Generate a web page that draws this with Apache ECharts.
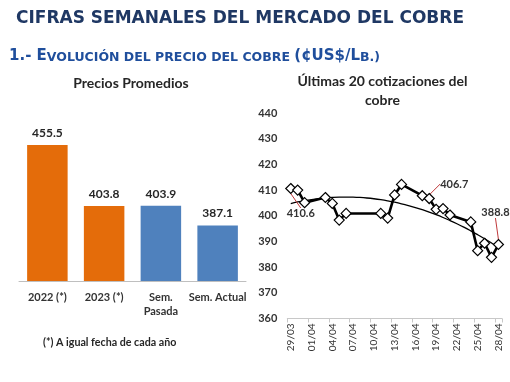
<!DOCTYPE html>
<html>
<head>
<meta charset="utf-8">
<script src="https://cdn.jsdelivr.net/npm/echarts@6/dist/echarts.min.js"></script>
<style>
html,body{margin:0;padding:0;background:#fff;}
#c{width:510px;height:382px;}
</style>
</head>
<body>
<div id="c"></div>
<script>
// ---- data ----
const barCategories = ['2022 (*)', '2023 (*)', 'Sem.\nPasada', 'Sem. Actual'];
const barValues = [455.5, 403.8, 403.9, 387.1];

const quoteDates = ['29/03','30/03','31/03','03/04','04/04','05/04','06/04','11/04','12/04','13/04','14/04',
                    '17/04','18/04','19/04','20/04','21/04','24/04','25/04','26/04','27/04','28/04'];
const quoteValues = [410.6, 410.0, 405.1, 407.1, 404.8, 398.3, 400.9, 400.9, 399.1, 408.1, 412.2,
                     407.8, 406.7, 402.5, 402.8, 400.3, 397.6, 386.4, 389.3, 383.8, 388.8];
const annotatedDates = ['29/03', '18/04', '28/04'];
const axisStart = '2023-03-29';
const axisEnd = '2023-04-28';
const yTicks = [360, 440, 10]; // min, max, step

// ---- build day categories for the date axis ----
function fmt(d){ return String(d.getUTCDate()).padStart(2,'0') + '/' + String(d.getUTCMonth()+1).padStart(2,'0'); }
const days = [];
for (let d = new Date(axisStart + 'T00:00:00Z'); d <= new Date(axisEnd + 'T00:00:00Z'); d = new Date(d.getTime() + 86400000)) days.push(fmt(d));
const lineData = days.map(function(day){
  const i = quoteDates.indexOf(day);
  return i < 0 ? null : quoteValues[i];
});

// quadratic least-squares trend (like Excel's polynomial trendline)
const xs = quoteDates.map(function(d){ return days.indexOf(d); });
function polyfit2(x, y){
  let n=x.length, s=[0,0,0,0,0], t=[0,0,0];
  for (let i=0;i<n;i++){ let p=1; for(let k=0;k<5;k++){ s[k]+=p; if(k<3) t[k]+=p*y[i]; p*=x[i]; } }
  const A=[[s[0],s[1],s[2],t[0]],[s[1],s[2],s[3],t[1]],[s[2],s[3],s[4],t[2]]];
  for (let c=0;c<3;c++){ for(let r=c+1;r<3;r++){ const f=A[r][c]/A[c][c]; for(let k=c;k<4;k++) A[r][k]-=f*A[c][k]; } }
  const b=[0,0,0];
  for (let r=2;r>=0;r--){ let v=A[r][3]; for(let k=r+1;k<3;k++) v-=A[r][k]*b[k]; b[r]=v/A[r][r]; }
  return b;
}
const coef = polyfit2(xs, quoteValues);
const trendData = days.map(function(_, i){
  return (i >= xs[0] && i <= xs[xs.length-1]) ? +(coef[0] + coef[1]*i + coef[2]*i*i).toFixed(3) : null;
});

const labelOffsets = { '29/03': [10, 25], '18/04': [25, -14.5], '28/04': [-3, -32] };

const FONT = 'Lato, "Open Sans", sans-serif';
const chart = echarts.init(document.getElementById('c'), null, {renderer: 'canvas'});
const option = {
  animation: false,
  backgroundColor: '#ffffff',
  title: [
    { text: 'CIFRAS SEMANALES DEL MERCADO DEL COBRE', left: 11, top: 5,
      textStyle: { fontFamily: 'DejaVu Sans', fontWeight: 'bold', fontSize: 17, color: '#1f3864' } },
    { text: '{b|1.- E}{s|VOLUCIÓN DEL PRECIO DEL COBRE }{b|(¢US$/L}{s|B.)}', left: 4, top: 44,
      textStyle: { rich: {
        b: { fontFamily: 'DejaVu Sans', fontWeight: 'bold', fontSize: 15, color: '#1f4e9c', verticalAlign: 'bottom' },
        s: { fontFamily: 'DejaVu Sans', fontWeight: 'bold', fontSize: 12.5, color: '#1f4e9c', verticalAlign: 'bottom' } } } },
    { text: 'Precios Promedios', left: 126, top: 71, textAlign: 'center',
      textStyle: { fontFamily: FONT, fontWeight: 'bold', fontSize: 14, color: '#262626' } },
    { text: 'Últimas 20 cotizaciones del\ncobre', left: 377.5, top: 67, textAlign: 'center',
      textStyle: { fontFamily: FONT, fontWeight: 'bold', fontSize: 14, color: '#262626', lineHeight: 19, align: 'center' } },
    { text: '(*) A igual fecha de cada año', left: 38, top: 332,
      textStyle: { fontFamily: FONT, fontWeight: 'bold', fontSize: 10.7, color: '#262626' } }
  ],
  grid: [
    { left: 19, width: 227, top: 139.7, height: 141.3 },
    { left: 287.3, width: 214.6, top: 113, height: 205.5 }
  ],
  xAxis: [
    { gridIndex: 0, type: 'category', data: barCategories,
      axisLine: { lineStyle: { color: '#bfbfbf', width: 1 } }, axisTick: { show: false },
      axisLabel: { interval: 0, margin: 9, fontFamily: FONT, fontSize: 11, fontWeight: 'bold', color: '#333', lineHeight: 14 } },
    { gridIndex: 1, type: 'category', data: days, boundaryGap: true,
      axisLine: { lineStyle: { color: '#c8c8c8', width: 1 } },
      axisTick: { show: true, interval: 2, length: 4, lineStyle: { color: '#c8c8c8' } },
      axisLabel: { interval: 2, rotate: 90, margin: 5, fontFamily: FONT, fontSize: 10, color: '#333' } }
  ],
  yAxis: [
    { gridIndex: 0, type: 'value', min: 340, max: 460, show: false },
    { gridIndex: 1, type: 'value', min: yTicks[0], max: yTicks[1], interval: yTicks[2],
      axisLine: { show: false }, axisTick: { show: false }, splitLine: { show: false },
      axisLabel: { margin: 10, fontFamily: FONT, fontSize: 11, fontWeight: 'bold', color: '#333' } }
  ],
  series: [
    { type: 'bar', xAxisIndex: 0, yAxisIndex: 0, barWidth: 40.5,
      data: barValues.map(function(v, i){ return { value: v, itemStyle: { color: i < 2 ? '#e46c0a' : '#4f81bd' } }; }),
      label: { show: true, position: 'top', distance: 6, fontFamily: FONT, fontWeight: 'bold', fontSize: 12, color: '#262626',
               formatter: function(p){ return p.value.toFixed(1); } } },
    { type: 'line', xAxisIndex: 1, yAxisIndex: 1, data: trendData, smooth: true, showSymbol: false, silent: true,
      lineStyle: { color: '#000', width: 1.3 }, z: 2 },
    { type: 'line', xAxisIndex: 1, yAxisIndex: 1, connectNulls: true,
      data: lineData.map(function(v, i){
        if (v === null) return null;
        const show = annotatedDates.indexOf(days[i]) >= 0;
        return show ? { value: v, label: { show: true } } : v;
      }),
      symbol: 'diamond', symbolSize: 10, showAllSymbol: true,
      itemStyle: { color: '#fff', borderColor: '#000', borderWidth: 1.2 },
      lineStyle: { color: '#000', width: 2.6 }, z: 3,
      label: { show: false, fontFamily: FONT, fontWeight: 'bold', fontSize: 11, color: '#333',
               formatter: function(p){ return (+p.value).toFixed(1); } },
      labelLayout: function(p){
        const off = labelOffsets[days[p.dataIndex]];
        if (!off) return {};
        return { x: p.rect.x + p.rect.width/2 + off[0] - (p.labelRect.width/2), y: p.rect.y + p.rect.height/2 + off[1] - p.labelRect.height/2, align: 'left', verticalAlign: 'top' };
      },
      labelLine: { show: true, lineStyle: { color: '#c0393b', width: 1 } }
    }
  ]
};
chart.setOption(option);
</script>
</body>
</html>
